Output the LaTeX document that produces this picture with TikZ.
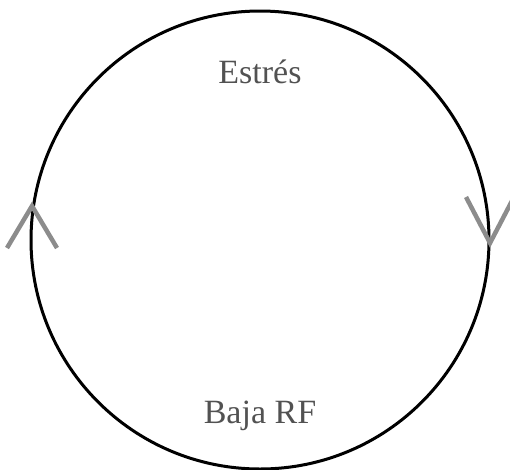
\documentclass[tikz,border=0pt]{standalone}
\usepackage{fontspec}
\setmainfont{Liberation Serif}
\begin{document}
\begin{tikzpicture}[x=1pt,y=-1pt,
  lbl/.style={anchor=base,text=black!68,font=\fontsize{34}{37}\selectfont,inner sep=0pt},
  chev/.style={draw=black!45,line width=4.5pt,line cap=butt,line join=miter},
  ring/.style={draw=black,line width=3pt}]
\useasboundingbox (0,0) rectangle (510,469);
\node[ring,circle,minimum size=458pt,inner sep=0pt] (c) at (260,240) {};
\node[lbl] (s) at (260,83) {Estrés};
\node[lbl] (b) at (260,423) {Baja RF};
\coordinate (la) at (32,206);
\draw[chev] (7,248) -- (la) -- (57,248);
\coordinate (ra) at (490,243);
\draw[chev] (466,197) -- (ra) -- (514,197);
\end{tikzpicture}
\end{document}
